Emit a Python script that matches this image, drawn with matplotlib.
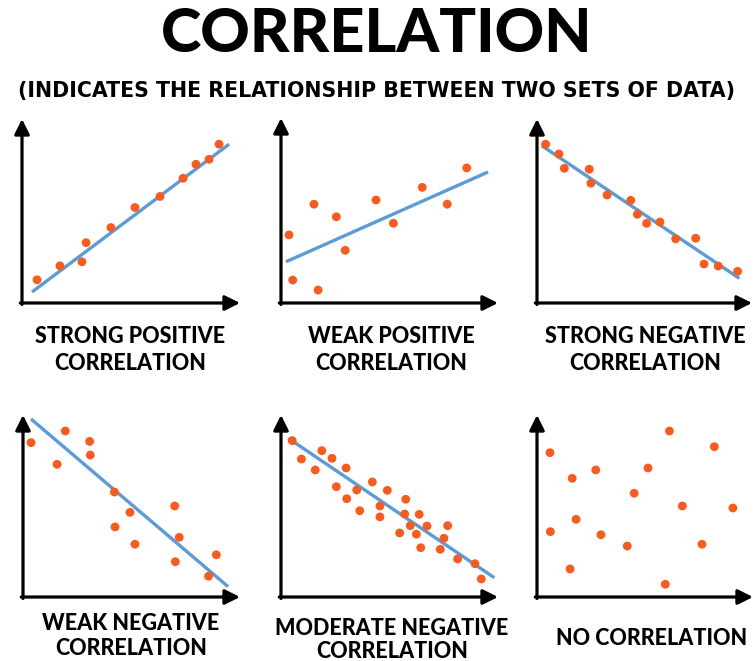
import matplotlib
matplotlib.use("Agg")
import matplotlib.pyplot as plt

W, H = 754, 661

# scatter data per panel, in axis units (0-10 along each arrow)
sp_x = [0.69, 1.74, 2.75, 2.94, 4.08, 5.18, 6.33, 7.39, 7.98, 8.58, 9.04]
sp_y = [1.26, 2.02, 2.24, 3.28, 4.10, 5.19, 5.79, 6.78, 7.54, 7.81, 8.63]
sp_line = ([0.46, 9.50], [0.60, 8.63])

wp_x = [0.37, 0.54, 1.52, 1.71, 2.55, 2.96, 4.38, 5.18, 6.51, 7.66, 8.56]
wp_y = [3.68, 1.24, 5.34, 0.70, 4.66, 2.85, 5.57, 4.31, 6.25, 5.34, 7.30]
wp_line = ([0.23, 9.54], [2.23, 7.08])

sn_x = [0.40, 1.02, 1.27, 2.43, 2.51, 3.26, 4.36, 4.67, 5.10, 5.72, 6.45, 7.38, 7.77, 8.43, 9.33]
sn_y = [8.63, 8.10, 7.32, 7.27, 6.51, 5.87, 5.58, 4.82, 4.33, 4.40, 3.49, 3.52, 2.12, 2.01, 1.72]
sn_line = ([0.22, 9.41], [8.55, 1.34])

wn_x = [0.37, 1.95, 1.57, 3.07, 3.10, 4.21, 4.93, 4.24, 5.16, 6.99, 7.20, 7.02, 8.91, 8.55]
wn_y = [8.48, 9.12, 7.29, 8.55, 7.80, 5.77, 4.65, 3.85, 2.90, 5.00, 3.28, 1.94, 2.32, 1.14]
wn_line = ([0.37, 9.45], [9.78, 0.57])

mn_x = [0.52, 0.94, 1.58, 1.88, 2.35, 3.00, 2.55, 3.03, 3.49, 3.63, 4.21, 4.56, 4.56, 4.90,
        5.75, 5.70, 6.37, 5.96, 6.73, 5.47, 6.24, 6.44, 7.68, 7.51, 7.34, 8.14, 8.94, 9.23]
mn_y = [8.59, 7.58, 6.98, 8.04, 7.62, 7.09, 6.06, 5.40, 5.88, 4.74, 6.32, 5.00, 4.40, 5.86,
        5.37, 4.56, 4.54, 3.92, 3.90, 3.52, 3.45, 2.71, 3.92, 3.23, 2.62, 2.09, 1.83, 0.99]
mn_line = ([0.34, 9.83], [8.72, 1.06])

nc_x = [0.60, 1.63, 2.72, 5.14, 6.13, 8.21, 4.50, 6.73, 9.07, 1.81, 0.62, 2.96, 4.18, 7.64, 1.53, 5.94]
nc_y = [7.93, 6.52, 6.98, 7.09, 9.12, 8.26, 5.70, 5.00, 4.89, 4.27, 3.59, 3.42, 2.80, 2.90, 1.54, 0.70]
nc_line = None

labels = [
    ["STRONG POSITIVE", "CORRELATION"],
    ["WEAK POSITIVE", "CORRELATION"],
    ["STRONG NEGATIVE", "CORRELATION"],
    ["WEAK NEGATIVE", "CORRELATION"],
    ["MODERATE NEGATIVE", "CORRELATION"],
    ["NO CORRELATION"],
]

panels = [
    (sp_x, sp_y, sp_line),
    (wp_x, wp_y, wp_line),
    (sn_x, sn_y, sn_line),
    (wn_x, wn_y, wn_line),
    (mn_x, mn_y, mn_line),
    (nc_x, nc_y, nc_line),
]

# layout in pixels: axis origin, arrow lengths, label centre / baselines
geom = [
    (22, 303, 218, 184, 130, [343, 370]),
    (281, 303, 217, 185, 391, [343, 370]),
    (537, 303, 215, 184, 645, [343, 370]),
    (23, 597, 217, 182, 131, [630, 655]),
    (281, 597, 217, 182, 392, [635, 658]),
    (537, 597, 216, 182, 652, [645]),
]

ORANGE = "#fa5a1c"
BLUE = "#5b9bd8"
FONT = ["Lato", "DejaVu Sans"]

fig = plt.figure(figsize=(W / 100, H / 100), dpi=100)
fig.patch.set_facecolor("white")

for (xs, ys, line), (x0, y0, xl, yl, cx, bases), lab in zip(panels, geom, labels):
    ax = fig.add_axes([x0 / W, (H - y0) / H, xl / W, yl / H])
    ax.set_xlim(0, 10)
    ax.set_ylim(0, 10)
    ax.axis("off")
    arrow = dict(arrowstyle="-|>,head_length=0.9,head_width=0.45", color="black",
                 lw=2.3, shrinkA=0, shrinkB=0, mutation_scale=10)
    ax.annotate("", xy=(10, 0), xytext=(-0.08, 0), arrowprops=arrow, annotation_clip=False)
    ax.annotate("", xy=(0, 10), xytext=(0, -0.08), arrowprops=arrow, annotation_clip=False)
    if line is not None:
        ax.plot(line[0], line[1], color=BLUE, lw=2.4, solid_capstyle="butt", zorder=2)
    ax.scatter(xs, ys, s=40, color=ORANGE, edgecolors="none", zorder=3, clip_on=False)

    for text, by in zip(lab, bases):
        fig.text(cx / W, 1 - by / H, text, ha="center", va="baseline",
                 fontsize=15.5, fontweight="black", family=FONT)

fig.text(377 / W, 1 - 52 / H, "CORRELATION", ha="center", va="baseline",
         fontsize=44, fontweight="black", family=FONT)
fig.text(376 / W, 1 - 97 / H, "(INDICATES THE RELATIONSHIP BETWEEN TWO SETS OF DATA)",
         ha="center", va="baseline", fontsize=14.8, fontweight="bold", family="DejaVu Sans")

fig.savefig("out.png", dpi=100, facecolor="white")
